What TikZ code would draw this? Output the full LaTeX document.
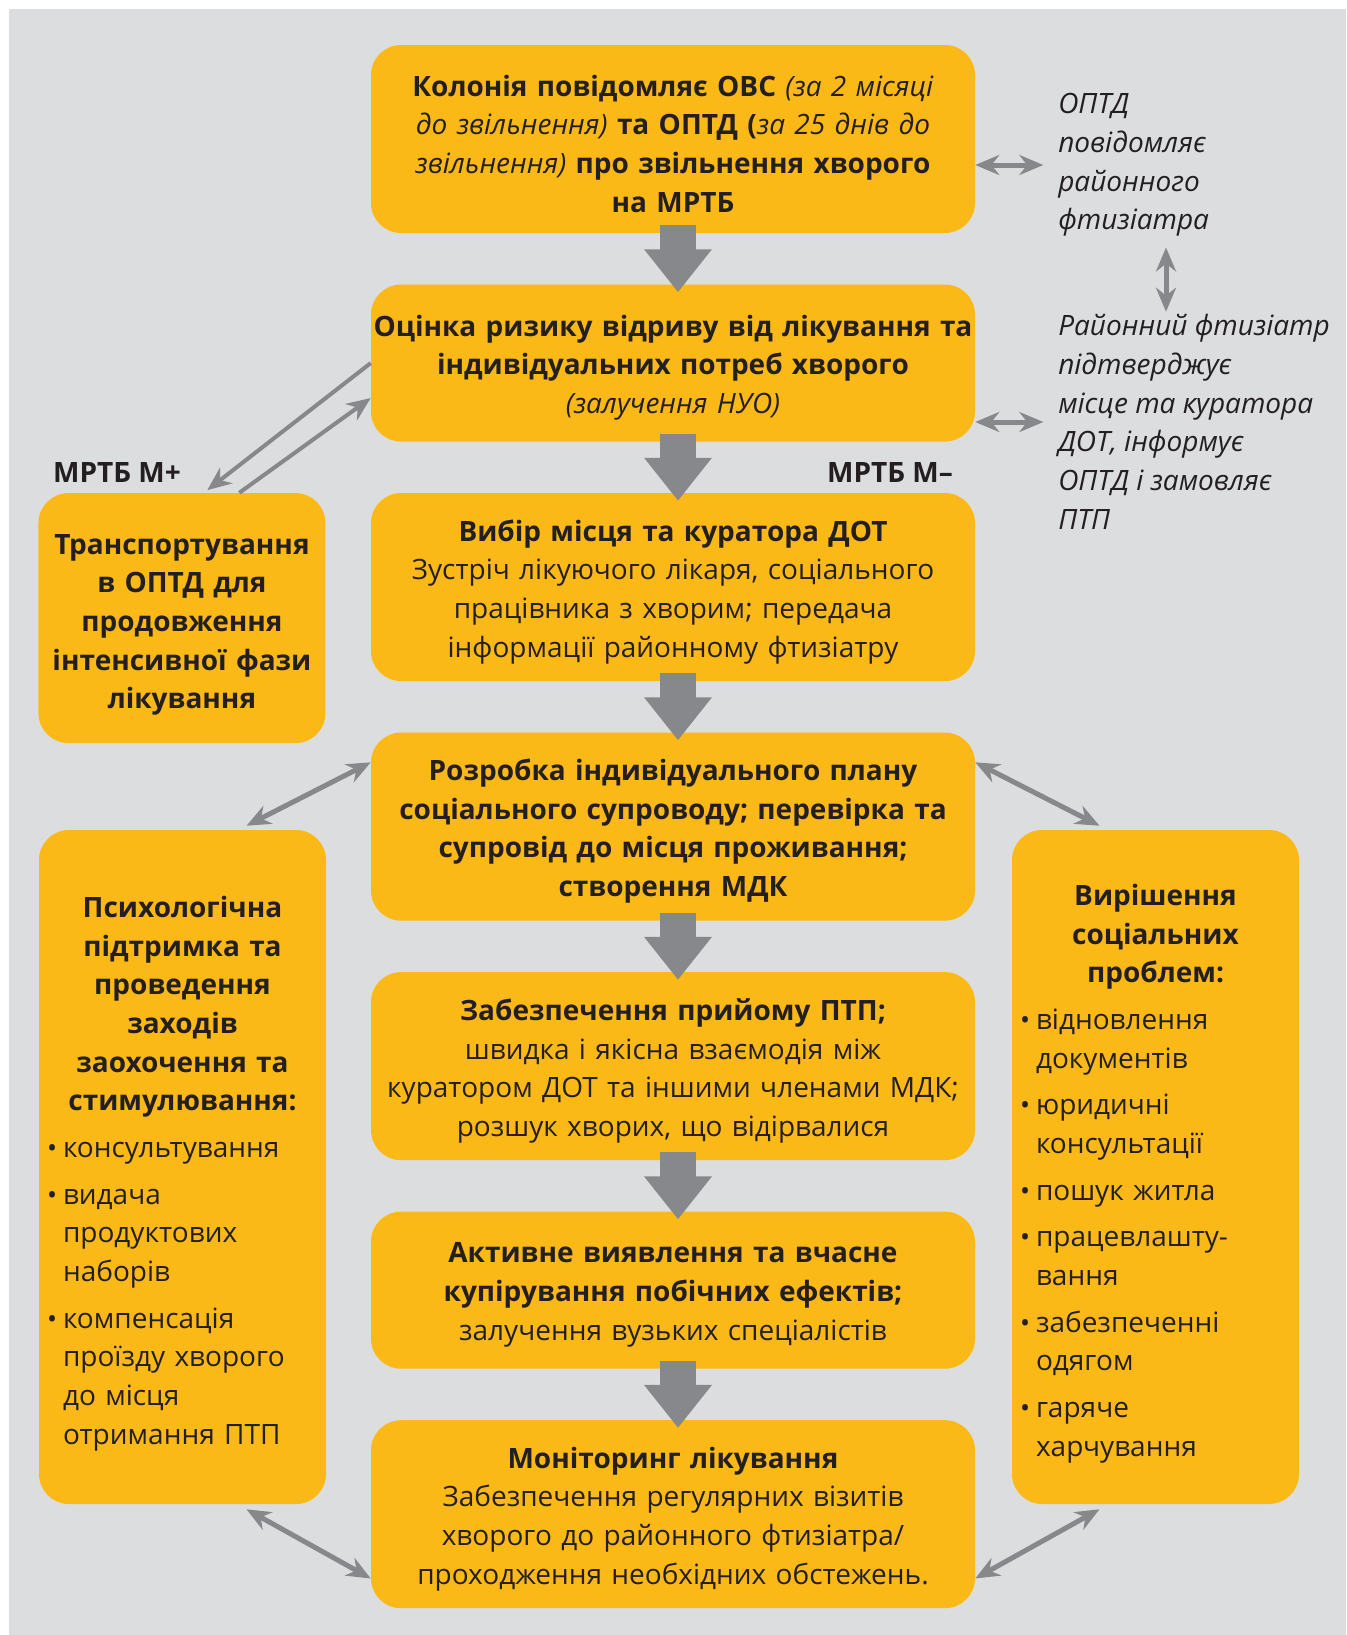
\documentclass[tikz,border=0pt]{standalone}
\usepackage{fontspec}
\setmainfont{Open Sans}
\usetikzlibrary{arrows.meta,positioning,calc}

\definecolor{boxyellow}{RGB}{251,185,23}
\definecolor{backgray}{RGB}{220,221,223}
\definecolor{arrowgray}{RGB}{135,136,140}
\definecolor{textdark}{RGB}{35,31,32}

\newcommand{\bitem}{\makebox[12pt][l]{\fontsize{20}{20}\selectfont\textbullet}}
\newcommand{\bcont}{\hspace*{12pt}}

\tikzset{
  stagebox/.style={fill=boxyellow, rounded corners=22.5pt, minimum width=453pt, text width=453pt, inner sep=0pt, align=center, execute at end node={\par\vspace{-7pt}}},
  sidebox/.style={fill=boxyellow, rounded corners=22.5pt, minimum width=215.25pt, text width=203.25pt, inner xsep=6pt, inner ysep=0pt, align=center, execute at end node={\par\vspace{-10pt}}},
  notetext/.style={inner sep=0pt, align=left, font=\fontsize{21}{29}\selectfont\itshape},
  flowarrow/.style={arrowgray, line width=27pt, -{Triangle[width=48.75pt,length=32.25pt]}},
  linkarrow/.style={arrowgray, line width=3pt, -{Stealth[width=15pt,length=18pt]}},
  twoway/.style={arrowgray, line width=3.75pt, {Stealth[width=15pt,length=18pt]}-{Stealth[width=15pt,length=18pt]}}
}

\begin{document}
\begin{tikzpicture}[x=0.75pt, y=-0.75pt, every node/.style={text=textdark}, font=\fontsize{21}{29}\selectfont]
  \useasboundingbox (0,0) rectangle (1346,1635);
  \fill[white] (0,0) rectangle (1346,1635);
  \fill[backgray] (9,9) rectangle (1346,1635);

  % central column
  \node[stagebox, minimum height=141pt] (b1) at (673,139) {\textbf{Колонія повідомляє ОВС} \textit{(за 2 місяці}\\ \textit{до звільнення)} \textbf{та ОПТД (}\textit{за 25 днів до}\\ \textit{звільнення)} \textbf{про звільнення хворого}\\ \textbf{на МРТБ}};
  \node[stagebox, minimum height=117.75pt, below=38.25pt of b1] (b2) {\textbf{Оцінка ризику відриву від лікування та}\\ \textbf{індивідуальних потреб хворого}\\ \textit{(залучення НУО)}};
  \node[stagebox, minimum height=141pt, below=38.25pt of b2] (b3) {\textbf{Вибір місця та куратора ДОТ}\\ Зустріч лікуючого лікаря, соціального\\ працівника з хворим; передача\\ інформації районному фтизіатру};
  \node[stagebox, minimum height=141pt, below=38.25pt of b3] (b4) {\textbf{Розробка індивідуального плану}\\ \textbf{соціального супроводу; перевірка та}\\ \textbf{супровід до місця проживання;}\\ \textbf{створення МДК}};
  \node[stagebox, minimum height=141pt, below=38.25pt of b4] (b5) {\textbf{Забезпечення прийому ПТП;}\\ швидка і якісна взаємодія між\\ куратором ДОТ та іншими членами МДК;\\ розшук хворих, що відірвалися};
  \node[stagebox, minimum height=117.75pt, below=38.25pt of b5] (b6) {\textbf{Активне виявлення та вчасне}\\ \textbf{купірування побічних ефектів;}\\ залучення вузьких спеціалістів};
  \node[stagebox, minimum height=141pt, below=38.25pt of b6] (b7) {\textbf{Моніторинг лікування}\\ Забезпечення регулярних візитів\\ хворого до районного фтизіатра/\\ проходження необхідних обстежень.};

  % side boxes
  \node[sidebox, minimum height=187.5pt, anchor=north east] (tr) at ([xshift=-33.75pt]b3.north west) {\textbf{Транспортування\\ в ОПТД для\\ продовження\\ інтенсивної фази\\ лікування}};
  \node[sidebox, minimum height=505.5pt] (psych) at (182.5,1167) {\textbf{Психологічна\\ підтримка та\\ проведення\\ заходів\\ заохочення та\\ стимулювання:}\par\vspace{6pt}\raggedright\leftskip=0pt\parfillskip=0pt plus 1fil
    \bitem консультування\\[6pt]
    \bitem видача\\ \bcont продуктових\\ \bcont наборів\\[6pt]
    \bitem компенсація\\ \bcont проїзду хворого\\ \bcont до місця\\ \bcont отримання ПТП\par};
  \node[sidebox, minimum height=505.5pt] (soc) at (1155.5,1167) {\textbf{Вирішення\\ соціальних\\ проблем:}\par\vspace{6pt}\raggedright\leftskip=0pt\parfillskip=0pt plus 1fil
    \bitem відновлення\\ \bcont документів\\[6pt]
    \bitem юридичні\\ \bcont консультації\\[6pt]
    \bitem пошук житла\\[6pt]
    \bitem працевлашту-\\ \bcont вання\\[6pt]
    \bitem забезпеченні\\ \bcont одягом\\[6pt]
    \bitem гаряче\\ \bcont харчування\par};

  % notes on the right
  \node[notetext, anchor=west] (optd) at (1058,165) {ОПТД\\ повідомляє\\ районного\\ фтизіатра};
  \node[notetext, anchor=west] (ray) at (1058,422) {Районний фтизіатр\\ підтверджує\\ місце та куратора\\ ДОТ, інформує\\ ОПТД і замовляє\\ ПТП};

  \node[font=\fontsize{21}{29}\selectfont\bfseries] (mplus) at (117,472) {МРТБ М+};
  \node[font=\fontsize{21}{29}\selectfont\bfseries] (mminus) at (890,472) {МРТБ М–};

  % flow arrows
  \draw[flowarrow] ([xshift=3.75pt,yshift=6pt]b1.south) -- ([xshift=3.75pt,yshift=-6pt]b2.north);
  \draw[flowarrow] ([xshift=3.75pt,yshift=6pt]b2.south) -- ([xshift=3.75pt,yshift=-6pt]b3.north);
  \draw[flowarrow] ([xshift=3.75pt,yshift=6pt]b3.south) -- ([xshift=3.75pt,yshift=-6pt]b4.north);
  \draw[flowarrow] ([xshift=3.75pt,yshift=6pt]b4.south) -- ([xshift=3.75pt,yshift=-6pt]b5.north);
  \draw[flowarrow] ([xshift=3.75pt,yshift=6pt]b5.south) -- ([xshift=3.75pt,yshift=-6pt]b6.north);
  \draw[flowarrow] ([xshift=3.75pt,yshift=6pt]b6.south) -- ([xshift=3.75pt,yshift=-6pt]b7.north);

  \draw[linkarrow] (b2.west) -- ([xshift=19pt,yshift=2pt]tr.north);
  \draw[linkarrow] ([xshift=43pt]tr.north) -- ([yshift=-26.25pt]b2.west);

  \draw[twoway] ([xshift=48pt,yshift=3pt]psych.north) -- ([yshift=-22.5pt]b4.north west);
  \draw[twoway] ([yshift=-22.5pt]b4.north east) -- ([xshift=-42pt,yshift=3pt]soc.north);
  \draw[twoway] ([xshift=48pt,yshift=-3.75pt]psych.south) -- ([yshift=22.5pt]b7.south west);
  \draw[twoway] ([yshift=22.5pt]b7.south east) -- ([xshift=-42pt,yshift=-3.75pt]soc.south);

  \draw[twoway] (b1.east |- optd.west) -- ([xshift=-11pt]optd.west);
  \draw[twoway] (b2.east |- ray.west) -- ([xshift=-11pt]ray.west);
  \draw[twoway] ([xshift=81pt,yshift=-8pt]optd.south west) -- ([xshift=81pt,yshift=2pt]ray.north west);

\end{tikzpicture}
\end{document}
